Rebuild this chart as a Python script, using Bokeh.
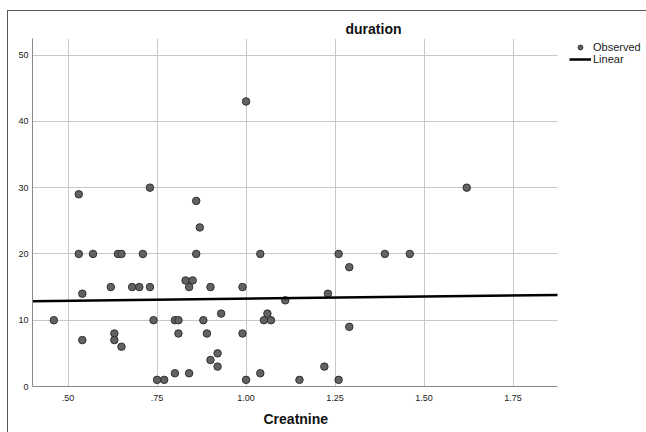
from bokeh.plotting import figure
from bokeh.models import Range1d, FixedTicker, Legend, LegendItem, ColumnDataSource, Title
from bokeh.embed import file_html
from bokeh.resources import INLINE

# Observed data (Creatnine vs duration)
creatnine = [0.46, 0.53, 0.57, 0.64, 0.65, 0.71, 0.86, 1.04, 0.87, 0.54,
             0.62, 0.68, 0.70, 0.73, 0.83, 0.85, 0.84, 0.90, 0.99, 0.74,
             0.80, 0.81, 0.88, 0.93, 1.05, 1.06, 1.07, 0.54, 0.63, 0.63,
             0.65, 0.81, 0.89, 0.99, 0.90, 0.92, 0.92, 0.75, 0.77, 0.80,
             0.84, 1.00, 1.04, 0.53, 0.73, 0.86, 1.00, 1.62, 1.26, 1.39,
             1.46, 1.29, 1.23, 1.11, 1.29, 1.22, 1.15, 1.26]
duration = [10, 20, 20, 20, 20, 20, 20, 20, 24, 14,
            15, 15, 15, 15, 16, 16, 15, 15, 15, 10,
            10, 10, 10, 11, 10, 11, 10, 7, 8, 7,
            6, 8, 8, 8, 4, 5, 3, 1, 1, 2,
            2, 1, 2, 29, 30, 28, 43, 30, 20, 20,
            20, 18, 14, 13, 9, 3, 1, 1]

# Linear fit
fit_intercept = 12.6
fit_slope = 0.65

x_ticks = [0.5, 0.75, 1.0, 1.25, 1.5, 1.75]
x_tick_labels = [".50", ".75", "1.00", "1.25", "1.50", "1.75"]
y_ticks = [0, 10, 20, 30, 40, 50]

x_lo, x_hi = 0.40, 1.875       # extent of the drawn data area
x_view_hi = 2.125               # frame continues under the legend
y_lo, y_hi = 0.0, 52.5

FONT = "Liberation Sans"

p = figure(width=646, height=432, output_backend="svg", toolbar_location=None,
           x_range=Range1d(x_lo, x_view_hi), y_range=Range1d(y_lo, y_hi),
           min_border_left=32, min_border_right=0, min_border_top=38,
           min_border_bottom=46)
p.styles = {"background": "linear-gradient(#555555,#555555) 7px 10px / 1px 422px no-repeat, "
                          "linear-gradient(#555555,#555555) 7px 10px / 639px 1px no-repeat, #ffffff"}
p.outline_line_color = None
p.background_fill_color = None
p.border_fill_color = None

p.title.text = "duration"
p.title.align = "left"
p.title.offset = 313
p.title.text_font = FONT
p.title.text_font_size = "14px"
p.title.text_font_style = "bold"
p.title.text_color = "#111111"
p.title.standoff = 4

src = ColumnDataSource(dict(x=creatnine, y=duration))
obs = p.scatter("x", "y", source=src, size=7.5, fill_color="#626262",
                line_color="#303030", line_width=1)

fx = [x_lo, x_hi]
fy = [fit_intercept + fit_slope * v for v in fx]
lin = p.line(fx, fy, line_color="black", line_width=2.5)

p.xaxis.ticker = FixedTicker(ticks=x_ticks)
p.xaxis.major_label_overrides = {t: l for t, l in zip(x_ticks, x_tick_labels)}
p.xaxis.bounds = (x_lo, x_hi)
p.yaxis.ticker = FixedTicker(ticks=y_ticks)

for ax in (p.xaxis, p.yaxis):
    ax.axis_line_color = "#8a8a8a"
    ax.axis_line_width = 1
    ax.major_tick_line_color = None
    ax.minor_tick_line_color = None
    ax.major_tick_out = 0
    ax.major_tick_in = 0
    ax.major_label_text_font = FONT
    ax.major_label_text_font_size = "9px"
    ax.major_label_text_color = "#222222"

p.xaxis.major_label_standoff = 8
p.yaxis.major_label_standoff = 4

xlabel = Title(text="Creatnine", align="left", offset=231, text_font=FONT,
               text_font_size="14px", text_font_style="bold",
               text_color="#111111", standoff=10)
p.add_layout(xlabel, "below")

p.xgrid.ticker = FixedTicker(ticks=x_ticks)
p.ygrid.ticker = FixedTicker(ticks=y_ticks)
p.ygrid.cross_bounds = (x_lo, x_hi)
p.grid.grid_line_color = "#c8c8c8"
p.grid.grid_line_width = 1

legend = Legend(items=[LegendItem(label="Observed", renderers=[obs]),
                       LegendItem(label="Linear", renderers=[lin])],
                location=(537, 321), padding=0, spacing=0, margin=0,
                border_line_color=None, background_fill_alpha=0,
                glyph_width=22, glyph_height=12, label_height=12,
                label_standoff=2, label_text_font=FONT,
                label_text_font_size="11px", label_text_color="#222222")
p.add_layout(legend, "center")

open("out.html", "w").write(file_html(p, INLINE))
